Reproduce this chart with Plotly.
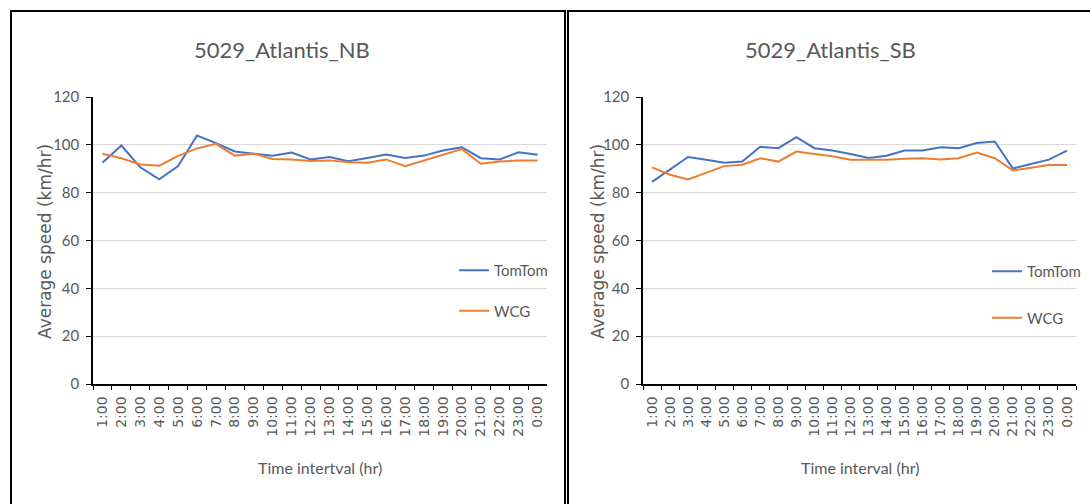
import plotly.graph_objects as go

hours = ["1:00", "2:00", "3:00", "4:00", "5:00", "6:00", "7:00", "8:00", "9:00", "10:00",
         "11:00", "12:00", "13:00", "14:00", "15:00", "16:00", "17:00", "18:00", "19:00",
         "20:00", "21:00", "22:00", "23:00", "0:00"]

nb_tomtom = [92.5, 99.7, 90.6, 85.6, 91.1, 103.9, 100.7, 97.2, 96.3, 95.4, 96.8, 93.9,
             94.9, 93.1, 94.5, 95.9, 94.5, 95.5, 97.6, 99.0, 94.4, 93.9, 96.9, 95.9]
nb_wcg = [96.3, 94.4, 91.8, 91.3, 95.4, 98.5, 100.4, 95.5, 96.3, 94.1, 93.9, 93.2,
          93.5, 92.7, 92.5, 93.9, 91.1, 93.5, 95.9, 98.2, 92.1, 93.0, 93.5, 93.5]

sb_tomtom = [84.5, 89.8, 94.9, 93.8, 92.5, 93.0, 99.2, 98.6, 103.2, 98.6, 97.6, 96.2,
             94.5, 95.4, 97.6, 97.6, 99.0, 98.6, 100.8, 101.4, 90.1, 92.0, 93.8, 97.6]
sb_wcg = [90.6, 87.5, 85.5, 88.3, 91.1, 91.7, 94.4, 93.0, 97.2, 96.2, 95.2, 93.8,
          93.8, 93.8, 94.2, 94.4, 93.9, 94.4, 96.8, 94.4, 89.3, 90.3, 91.6, 91.6]

titles = ["5029_Atlantis_NB", "5029_Atlantis_SB"]
xtitles = ["Time intertval (hr)", "Time interval (hr)"]
ytitle = "Average speed (km/hr)"

BLUE = "#4472C4"
ORANGE = "#ED7D31"
GRAY = "#595959"
W, H = 1090, 504

fig = go.Figure()
fig.add_trace(go.Scatter(x=hours, y=nb_tomtom, name="TomTom", mode="lines",
                         line=dict(color=BLUE, width=2), xaxis="x", yaxis="y",
                         legend="legend", legendgroup="a"))
fig.add_trace(go.Scatter(x=hours, y=nb_wcg, name="WCG", mode="lines",
                         line=dict(color=ORANGE, width=2), xaxis="x", yaxis="y",
                         legend="legend", legendgroup="b"))
fig.add_trace(go.Scatter(x=hours, y=sb_tomtom, name="TomTom", mode="lines",
                         line=dict(color=BLUE, width=2), xaxis="x2", yaxis="y2",
                         legend="legend2", legendgroup="c"))
fig.add_trace(go.Scatter(x=hours, y=sb_wcg, name="WCG", mode="lines",
                         line=dict(color=ORANGE, width=2), xaxis="x2", yaxis="y2",
                         legend="legend2", legendgroup="d"))

ydom = [1 - 384 / H, 1 - 97 / H]
xcommon = dict(type="category", range=[-0.5, len(hours) - 0.5], showgrid=False, showline=True,
               linecolor="black", linewidth=1.5,
               ticks="outside", tickson="boundaries", ticklen=4, tickcolor="black",
               tickangle=-90, tickfont=dict(family="DejaVu Sans", size=14, color=GRAY),
               ticklabelstandoff=5, automargin=False, fixedrange=True)
ycommon = dict(range=[0, 120], dtick=20, showgrid=True, gridcolor="#d9d9d9", gridwidth=1,
               showline=True, linecolor="black", linewidth=1.5, ticks="outside", ticklen=5,
               tickcolor="black", tickfont=dict(family="Lato", size=15, color=GRAY),
               zeroline=False, automargin=False, ticklabelstandoff=4, fixedrange=True)

fig.update_layout(
    width=W, height=H, margin=dict(l=0, r=0, t=0, b=0),
    paper_bgcolor="white", plot_bgcolor="white",
    xaxis=dict(domain=[93 / W, 547 / W], anchor="y", **xcommon),
    yaxis=dict(domain=ydom, anchor="x", **ycommon),
    xaxis2=dict(domain=[643 / W, 1076 / W], anchor="y2", **xcommon),
    yaxis2=dict(domain=ydom, anchor="x2", **ycommon),
    legend=dict(x=454 / W, y=1 - 254 / H, xanchor="left", yanchor="top",
                bgcolor="rgba(0,0,0,0)", font=dict(family="Lato", size=15, color=GRAY),
                tracegroupgap=18),
    legend2=dict(x=987 / W, y=1 - 255 / H, xanchor="left", yanchor="top",
                 bgcolor="rgba(0,0,0,0)", font=dict(family="Lato", size=15, color=GRAY),
                 tracegroupgap=24),
    showlegend=True,
)

ann = []
for t, xt, cx, cxt, cy in [(titles[0], xtitles[0], 282, 320, 45), (titles[1], xtitles[1], 830, 860, 598)]:
    ann.append(dict(text=t, x=cx / W, y=1 - 50 / H, xref="paper", yref="paper",
                    xanchor="center", yanchor="middle",
                    showarrow=False, font=dict(family="Lato", size=22, color=GRAY)))
    ann.append(dict(text=xt, x=cxt / W, y=1 - 467 / H, xref="paper", yref="paper",
                    xanchor="center", yanchor="middle",
                    showarrow=False, font=dict(family="Lato", size=16, color=GRAY)))
    ann.append(dict(text=ytitle, x=cy / W, y=1 - 242 / H, xref="paper", yref="paper",
                    xanchor="center", yanchor="middle",
                    showarrow=False, textangle=-90,
                    font=dict(family="DejaVu Sans", size=17, color=GRAY)))
fig.update_layout(annotations=ann)

fig.update_layout(shapes=[
    dict(type="rect", xref="paper", yref="paper", x0=11 / W, x1=565 / W, y0=-0.2, y1=1 - 11 / H,
         line=dict(color="black", width=2)),
    dict(type="rect", xref="paper", yref="paper", x0=568 / W, x1=1.2, y0=-0.2, y1=1 - 11 / H,
         line=dict(color="black", width=2)),
])

fig.write_html("out.html", config={"displayModeBar": False},
               post_script="document.body.style.margin='0px';document.body.style.overflow='hidden';")
